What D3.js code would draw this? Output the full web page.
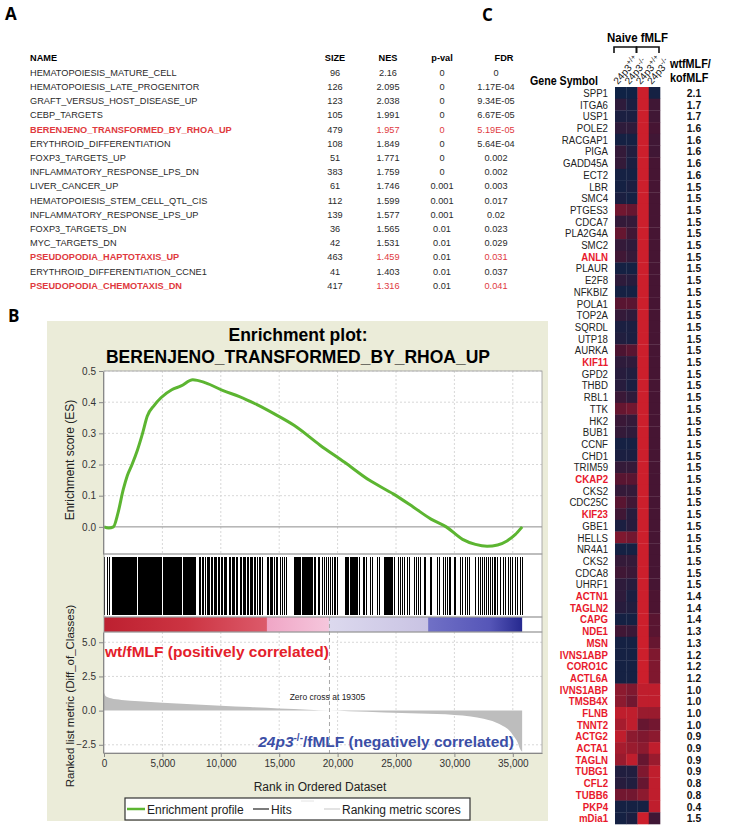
<!DOCTYPE html>
<html>
<head>
<meta charset="utf-8">
<style>
body { margin: 0; background: #fff; }
svg { display: block; font-family: "Liberation Sans", Arial, sans-serif; }
</style>
</head>
<body>
<div id="graph"></div>
<script src="https://d3js.org/d3.v7.min.js"></script>
<script>
// ---------- Panel A: GSEA table ----------
var setNames = ["HEMATOPOIESIS_MATURE_CELL", "HEMATOPOIESIS_LATE_PROGENITOR", "GRAFT_VERSUS_HOST_DISEASE_UP",
  "CEBP_TARGETS", "BERENJENO_TRANSFORMED_BY_RHOA_UP", "ERYTHROID_DIFFERENTIATION", "FOXP3_TARGETS_UP",
  "INFLAMMATORY_RESPONSE_LPS_DN", "LIVER_CANCER_UP", "HEMATOPOIESIS_STEM_CELL_QTL_CIS",
  "INFLAMMATORY_RESPONSE_LPS_UP", "FOXP3_TARGETS_DN", "MYC_TARGETS_DN", "PSEUDOPODIA_HAPTOTAXIS_UP",
  "ERYTHROID_DIFFERENTIATION_CCNE1", "PSEUDOPODIA_CHEMOTAXIS_DN"];
var setSize = ["96", "126", "123", "105", "479", "108", "51", "383", "61", "112", "139", "36", "42", "463", "41", "417"];
var setNES = ["2.16", "2.095", "2.038", "1.991", "1.957", "1.849", "1.771", "1.759", "1.746", "1.599", "1.577", "1.565", "1.531", "1.459", "1.403", "1.316"];
var setPval = ["0", "0", "0", "0", "0", "0", "0", "0", "0.001", "0.001", "0.001", "0.01", "0.01", "0.01", "0.01", "0.01"];
var setFDR = ["0", "1.17E-04", "9.34E-05", "6.67E-05", "5.19E-05", "5.64E-04", "0.002", "0.002", "0.003", "0.017", "0.02", "0.023", "0.029", "0.031", "0.037", "0.041"];
var setRed = [0, 0, 0, 0, 1, 0, 0, 0, 0, 0, 0, 0, 0, 1, 0, 1];
var pvalRed = [0, 0, 0, 0, 1, 0, 0, 0, 0, 0, 0, 0, 0, 0, 0, 0];

// ---------- Panel B: enrichment plot ----------
var esRank = [0, 400, 800, 1200, 1650, 2000, 2400, 2850, 3300, 3700, 4300, 4900, 5800, 6600, 7600, 8700,
  10200, 11600, 13100, 14700, 16300, 18500, 20600, 22700, 24800, 26500, 28000, 29300, 30700, 31800,
  32800, 33700, 34500, 35200, 35800];
var esScore = [0, -0.004, 0.0, 0.045, 0.12, 0.165, 0.2, 0.245, 0.3, 0.355, 0.39, 0.415, 0.44, 0.452, 0.472, 0.462,
  0.437, 0.418, 0.392, 0.36, 0.325, 0.262, 0.207, 0.15, 0.105, 0.063, 0.025, 0.0, -0.04, -0.056,
  -0.062, -0.058, -0.045, -0.025, 0.0];

var hitRanks = [39, 244, 420,
  714, 800, 885, 970, 1055, 1140, 1225, 1310, 1395, 1480, 1565, 1650, 1735, 1820, 1905, 1990, 2075, 2160, 2245, 2330, 2415, 2500, 2585, 2670, 2769,
  2916, 3000, 3085, 3170, 3255, 3340, 3425, 3510, 3595, 3680, 3765, 3850, 3935, 4020, 4105, 4190, 4275, 4354,
  4472, 4555, 4640, 4725, 4810, 4885,
  5056, 5140, 5225, 5310, 5395, 5480, 5565, 5650, 5735, 5820, 5905, 5990, 6075, 6160, 6245, 6330, 6415, 6500, 6584,
  6730, 6815, 6900, 6985, 7070, 7155, 7240, 7325, 7410, 7495, 7580, 7665, 7757,
  8110, 8256, 8380, 8510, 8640, 8786, 8900, 8992,
  9138, 9260, 9380, 9500, 9620, 9750, 9871, 10018, 10130, 10240, 10350, 10458,
  10693, 10810, 10930, 11050, 11170, 11290, 11397,
  11632, 11750, 11870, 11990, 12110, 12230, 12350, 12470, 12590, 12700, 12804,
  12951, 13100, 13250, 13391, 13538, 13919, 14050, 14170, 14271,
  14417, 14550, 14700, 14850, 15085, 15231, 15428, 15600,
  16225, 16300, 16371, 16460, 16550, 16640, 16730, 16820, 16910, 17000, 17090, 17180, 17270, 17360, 17450, 17540, 17630, 17720, 17810, 17940,
  18100, 18300, 18450, 18650, 18800, 19000, 19150, 19350, 19517, 19654, 19800, 19945,
  20657, 20750, 20840, 20930, 21020, 21110, 21200, 21290, 21380, 21470, 21560, 21650, 21797,
  22174, 22285, 22457, 22800, 22945, 23374, 23546,
  23940, 24030, 24120, 24210, 24300, 24390, 24480, 24570, 24660, 24797,
  25140, 25311, 25517, 25714, 25945, 26085, 26510, 26700, 26900, 27085,
  27370, 27510, 27880, 28000, 28515, 28650, 29030, 29230, 29370, 29500, 29655, 29940, 30085,
  30510, 30685, 30940, 31080, 31225, 31800, 31995, 32230, 32400, 32570,
  32740, 32900, 33050, 33200, 33370, 33510, 33660, 33940, 34170, 34370, 34570, 34800, 34970,
  35230, 35370, 35600, 35800];

var metricRank = [0, 150, 600, 1500, 3000, 5000, 7500, 10000, 12500, 15000, 17500, 19305, 21000, 24000, 27000,
  30000, 31400, 32500, 33500, 34200, 34700, 35100, 35400, 35650, 35800];
var metricValue = [1.3, 1.05, 0.9, 0.78, 0.68, 0.58, 0.47, 0.36, 0.26, 0.16, 0.07, 0, -0.05, -0.13, -0.22,
  -0.32, -0.43, -0.6, -0.85, -1.15, -1.45, -1.9, -2.3, -2.85, -3.0];

var barStopRank = [0, 7000, 13900, 14000, 19200, 19300, 27700, 27800, 33000, 35800];
var barStopColor = ["#bd2030", "#cc3442", "#dc5a6a", "#f0a6c6", "#f5c6dc", "#dcd9ee", "#c9c3e3", "#7070c6", "#5656b8", "#26298f"];

var rankTicks = [0, 5000, 10000, 15000, 20000, 25000, 30000, 35000];
var esTicks = [0.0, 0.1, 0.2, 0.3, 0.4, 0.5];
var metricTicks = [-2.5, 0.0, 2.5, 5.0];
var zeroCross = 19305;
var nGenes = 35800;

// ---------- Panel C: heatmap ----------
var genes = ["SPP1", "ITGA6", "USP1", "POLE2", "RACGAP1", "PIGA", "GADD45A", "ECT2", "LBR", "SMC4", "PTGES3",
  "CDCA7", "PLA2G4A", "SMC2", "ANLN", "PLAUR", "E2F8", "NFKBIZ", "POLA1", "TOP2A", "SQRDL", "UTP18", "AURKA",
  "KIF11", "GPD2", "THBD", "RBL1", "TTK", "HK2", "BUB1", "CCNF", "CHD1", "TRIM59", "CKAP2", "CKS2", "CDC25C",
  "KIF23", "GBE1", "HELLS", "NR4A1", "CKS2", "CDCA8", "UHRF1", "ACTN1", "TAGLN2", "CAPG", "NDE1", "MSN",
  "IVNS1ABP", "CORO1C", "ACTL6A", "IVNS1ABP", "TMSB4X", "FLNB", "TNNT2", "ACTG2", "ACTA1", "TAGLN", "TUBG1",
  "CFL2", "TUBB6", "PKP4", "mDia1"];
var geneRed = ["ANLN", "KIF11", "CKAP2", "KIF23"];
var firstRedBlock = 43; // ACTN1 onwards
var ratio = ["2.1", "1.7", "1.7", "1.6", "1.6", "1.6", "1.6", "1.6",
  "1.5", "1.5", "1.5", "1.5", "1.5", "1.5", "1.5", "1.5", "1.5", "1.5", "1.5", "1.5", "1.5", "1.5", "1.5", "1.5",
  "1.5", "1.5", "1.5", "1.5", "1.5", "1.5", "1.5", "1.5", "1.5", "1.5", "1.5", "1.5", "1.5", "1.5", "1.5", "1.5",
  "1.5", "1.5", "1.5", "1.4", "1.4", "1.4", "1.3", "1.3", "1.2", "1.2", "1.2", "1.0", "1.0", "1.0", "1.0",
  "0.9", "0.9", "0.9", "0.9", "0.8", "0.8", "0.4", "1.5"];
var heat = [
  [-1, -1, 1, -0.9], [-0.5, -0.8, 1, -0.2], [-0.8, -0.8, 1, -0.2], [-0.5, -0.5, 1, -0.1], [-0.9, -0.9, 1, -0.2],
  [-0.4, -0.7, 1, -0.2], [-0.4, -0.8, 1, -0.1], [-0.9, -0.9, 1, -0.1], [-0.9, -0.8, 1, -0.1], [-0.8, -0.9, 1, -0.1],
  [0.3, 0.2, 1, -0.1], [-0.4, -0.4, 1, -0.1], [0.2, -0.2, 1, -0.1], [-0.4, -0.5, 1, -0.1], [-0.2, -0.4, 1, -0.1],
  [-0.9, -0.9, 1, -0.1], [-0.5, -0.6, 1, -0.1], [-0.9, -0.9, 1, -0.1], [0.1, 0.1, 1, -0.1], [-0.4, -0.5, 1, -0.1],
  [-0.8, -0.8, 1, -0.1], [-0.7, -0.8, 1, -0.1], [0.0, 0.1, 1, -0.1], [-0.5, -0.5, 1, -0.1], [-0.6, -0.7, 1, -0.1],
  [-0.6, -0.8, 1, -0.1], [-0.3, -0.5, 1, -0.1], [0.2, 0.3, 1, -0.1], [-0.3, -0.4, 1, -0.1], [-0.4, -0.5, 1, -0.1],
  [-0.9, -0.9, 1, -0.1], [-0.8, -0.8, 1, -0.1], [-0.4, -0.4, 1, -0.1], [0.1, 0.1, 1, -0.1], [-0.4, -0.4, 1, -0.1],
  [0.1, -0.2, 1, -0.1], [-0.2, -0.6, 1, -0.1], [-0.8, -0.6, 1, -0.1], [0.4, 0.3, 1, -0.1], [-0.9, -0.9, 1, -0.1],
  [-0.4, -0.4, 1, -0.1], [-0.2, -0.3, 1, -0.1], [-0.5, -0.6, 1, -0.1], [-0.5, -0.8, 1, 0.0], [-0.6, -0.7, 1, 0.0],
  [-0.9, -0.9, 1, 0.1], [-0.2, -0.3, 1, 0.1], [-0.9, -0.9, 1, 0.2], [-0.9, -0.9, 1, 0.4], [-0.9, -0.9, 1, 0.4],
  [-0.9, -0.9, 1, 0.4], [0.5, 0.4, 0.9, 0.9], [0.5, 0.3, 0.9, 0.9], [0.9, 0.9, 0.6, 0.6], [0.7, 0.9, 0.2, 0.3],
  [0.9, 0.5, 0.4, 0.5], [0.7, 0.6, 0.5, 0.9], [0.6, 0.9, 0.2, 0.6], [-0.7, -0.7, 0.4, 0.9], [-0.6, -0.7, 0.2, 0.9],
  [0.3, 0.3, 0.5, 0.9], [-0.9, -0.9, -0.9, 0.9], [-0.9, -0.8, 1, -0.2]];
var colSup = ["+/+", "-/-", "+/+", "-/-"];

var W = 729, H = 826;
var red = "#e0393e";

var svg = d3.select("#graph").append("svg")
  .attr("width", W)
  .attr("height", H);

svg.append("rect").attr("width", W).attr("height", H).attr("fill", "#fff");

// panel letters
[["A", 5, 20], ["B", 8, 322], ["C", 482, 21]].forEach(function(p) {
  svg.append("text").attr("x", p[1]).attr("y", p[2])
    .style("font-family", '"Open Sans", sans-serif')
    .style("font-weight", "bold").style("font-size", "17px").text(p[0]);
});

// ================= Panel A =================
var tbl = svg.append("g").style("font-size", "9.2px");
var rowY = d3.scaleLinear().domain([0, 1]).range([75.7, 89.9]);
var colX = [335, 388, 442, 496];

tbl.append("text").attr("x", 30).attr("y", 61).style("font-weight", "bold").text("NAME");
[["SIZE", 335], ["NES", 388], ["p-val", 442], ["FDR", 504]].forEach(function(h) {
  tbl.append("text").attr("x", h[1]).attr("y", 61).attr("text-anchor", "middle")
    .style("font-weight", "bold").text(h[0]);
});

setNames.forEach(function(n, i) {
  var y = rowY(i);
  tbl.append("text").attr("x", 30).attr("y", y)
    .attr("fill", setRed[i] ? red : "#2a2a2a")
    .style("font-weight", setRed[i] ? "bold" : "normal").text(n);
  var cells = [setSize[i], setNES[i], setPval[i], setFDR[i]];
  var reds = [0, setRed[i], pvalRed[i], setRed[i]];
  cells.forEach(function(c, j) {
    tbl.append("text").attr("x", colX[j]).attr("y", y).attr("text-anchor", "middle")
      .attr("fill", reds[j] ? red : "#2a2a2a").text(c);
  });
});

// ================= Panel B =================
var gB = svg.append("g");
gB.append("rect").attr("x", 47).attr("y", 321).attr("width", 501).attr("height", 500).attr("fill", "#ebecd9");

gB.append("text").attr("x", 298).attr("y", 341).attr("text-anchor", "middle")
  .style("font-weight", "bold").style("font-size", "17.5px").text("Enrichment plot:");
gB.append("text").attr("x", 298).attr("y", 363).attr("text-anchor", "middle")
  .style("font-weight", "bold").style("font-size", "17.5px").text("BERENJENO_TRANSFORMED_BY_RHOA_UP");

var x = d3.scaleLinear().domain([0, 37500]).range([104, 542]);
var yES = d3.scaleLinear().domain([-0.087, 0.5]).range([554, 371]);
var yM = d3.scaleLinear().domain([-3.1, 5.75]).range([753, 632]);

// panel backgrounds
[[371, 554], [554, 617], [617, 632], [632, 753]].forEach(function(b) {
  gB.append("rect").attr("x", x.range()[0]).attr("y", b[0])
    .attr("width", x.range()[1] - x.range()[0]).attr("height", b[1] - b[0])
    .attr("fill", "#fff");
});

// gridlines ES
gB.append("g").selectAll("line").data(rankTicks.slice(1)).enter().append("line")
  .attr("x1", function(d) { return x(d); }).attr("x2", function(d) { return x(d); })
  .attr("y1", 371).attr("y2", 554)
  .attr("stroke", "#d8d8d8").attr("stroke-dasharray", "2,2");
gB.append("g").selectAll("line").data(esTicks.slice(1)).enter().append("line")
  .attr("x1", x.range()[0]).attr("x2", x.range()[1])
  .attr("y1", function(d) { return yES(d); }).attr("y2", function(d) { return yES(d); })
  .attr("stroke", "#d8d8d8").attr("stroke-dasharray", "2,2");
gB.append("line").attr("x1", x.range()[0]).attr("x2", x.range()[1])
  .attr("y1", yES(0)).attr("y2", yES(0)).attr("stroke", "#8c8c8c").attr("stroke-width", 1);

// gridlines metric
gB.append("g").selectAll("line").data(rankTicks.slice(1)).enter().append("line")
  .attr("x1", function(d) { return x(d); }).attr("x2", function(d) { return x(d); })
  .attr("y1", 632).attr("y2", 753)
  .attr("stroke", "#d8d8d8").attr("stroke-dasharray", "2,2");
gB.append("g").selectAll("line").data([-2.5, 2.5, 5.0]).enter().append("line")
  .attr("x1", x.range()[0]).attr("x2", x.range()[1])
  .attr("y1", function(d) { return yM(d); }).attr("y2", function(d) { return yM(d); })
  .attr("stroke", "#d8d8d8").attr("stroke-dasharray", "2,2");

// hits
gB.append("g").selectAll("line").data(hitRanks).enter().append("line")
  .attr("x1", function(d) { return Math.round(x(d)) + 0.5; }).attr("x2", function(d) { return Math.round(x(d)) + 0.5; })
  .attr("y1", 557).attr("y2", 615)
  .attr("stroke", "#000").attr("stroke-width", 1)
  .attr("shape-rendering", "crispEdges");

// colour bar
var grad = svg.append("defs").append("linearGradient").attr("id", "rankbar")
  .attr("x1", "0%").attr("x2", "100%");
barStopRank.forEach(function(r, i) {
  grad.append("stop").attr("offset", (r / nGenes * 100) + "%").attr("stop-color", barStopColor[i]);
});
gB.append("rect").attr("x", x(0)).attr("y", 617).attr("width", x(nGenes) - x(0)).attr("height", 15)
  .attr("fill", "url(#rankbar)");

// ranked list metric
var area = d3.area()
  .x(function(d, i) { return x(metricRank[i]); })
  .y0(yM(0))
  .y1(function(d) { return yM(d); })
  .curve(d3.curveMonotoneX);
gB.append("path").datum(metricValue).attr("d", area).attr("fill", "#bdbdbd");

// zero cross
gB.append("line").attr("x1", x(zeroCross)).attr("x2", x(zeroCross))
  .attr("y1", 617).attr("y2", 753)
  .attr("stroke", "#a8a8a8").attr("stroke-dasharray", "4,3");
gB.append("text").attr("x", x(zeroCross) - 2).attr("y", 700).attr("text-anchor", "middle")
  .style("font-size", "8.5px").attr("fill", "#222").text("Zero cross at " + zeroCross);

// ES curve
var line = d3.line()
  .x(function(d, i) { return x(esRank[i]); })
  .y(function(d) { return yES(d); })
  .curve(d3.curveMonotoneX);
gB.append("path").datum(esScore).attr("d", line)
  .attr("fill", "none").attr("stroke", "#5cb531").attr("stroke-width", 3);

// panel borders
[[371, 554], [554, 617], [617, 632], [632, 753]].forEach(function(b) {
  gB.append("rect").attr("x", x.range()[0]).attr("y", b[0])
    .attr("width", x.range()[1] - x.range()[0]).attr("height", b[1] - b[0])
    .attr("fill", "none").attr("stroke", "#9a9a9a").attr("stroke-width", 0.8);
});

// axes
function styleAxis(g) {
  g.selectAll("path").attr("stroke", "#888");
  g.selectAll("line").attr("stroke", "#888");
  g.selectAll("text").attr("fill", "#333").style("font-size", "10px")
    .style("font-family", '"Liberation Sans", Arial, sans-serif');
}
gB.append("g").attr("transform", "translate(103,0)")
  .call(d3.axisLeft(yES).tickValues(esTicks).tickFormat(d3.format(".1f")).tickSize(4).tickSizeOuter(0))
  .call(styleAxis);
gB.append("g").attr("transform", "translate(103,0)")
  .call(d3.axisLeft(yM).tickValues(metricTicks).tickFormat(d3.format(".1f")).tickSize(4).tickSizeOuter(0))
  .call(styleAxis);
gB.append("g").attr("transform", "translate(0,753)")
  .call(d3.axisBottom(x).tickValues(rankTicks).tickFormat(d3.format(",")).tickSize(4).tickSizeOuter(0))
  .call(styleAxis);

// axis labels
gB.append("text").attr("transform", "translate(74,460) rotate(-90)").attr("text-anchor", "middle")
  .style("font-size", "12px").attr("fill", "#222").text("Enrichment score (ES)");
gB.append("text").attr("transform", "translate(74,696) rotate(-90)").attr("text-anchor", "middle")
  .style("font-size", "11.5px").attr("fill", "#222").text("Ranked list metric (Diff_of_Classes)");
gB.append("text").attr("x", 320).attr("y", 791).attr("text-anchor", "middle")
  .style("font-size", "12px").attr("fill", "#222").text("Rank in Ordered Dataset");

// class annotations
gB.append("text").attr("x", 105).attr("y", 657)
  .style("font-weight", "bold").style("font-size", "15.5px").attr("fill", "#e4202a")
  .text("wt/fMLF (positively correlated)");
var neg = gB.append("text").attr("x", 514).attr("y", 747).attr("text-anchor", "end")
  .style("font-weight", "bold").style("font-size", "15.5px").attr("fill", "#3b4ea6");
neg.append("tspan").style("font-style", "italic").text("24p3");
neg.append("tspan").attr("dy", -6).style("font-size", "10px").text("-/-");
neg.append("tspan").attr("dy", 6).text("/fMLF (negatively correlated)");

// legend
var lg = gB.append("g");
lg.append("rect").attr("x", 125).attr("y", 798).attr("width", 345).attr("height", 22)
  .attr("fill", "#fff").attr("stroke", "#333").attr("stroke-width", 1.2);
lg.append("line").attr("x1", 127).attr("x2", 145).attr("y1", 809).attr("y2", 809).attr("stroke", "#5cb531").attr("stroke-width", 2.5);
lg.append("text").attr("x", 147).attr("y", 813.5).style("font-size", "12px").attr("fill", "#222").text("Enrichment profile");
lg.append("line").attr("x1", 253).attr("x2", 269).attr("y1", 809).attr("y2", 809).attr("stroke", "#222").attr("stroke-width", 1.2);
lg.append("text").attr("x", 271).attr("y", 813.5).style("font-size", "12px").attr("fill", "#222").text("Hits");
lg.append("line").attr("x1", 301).attr("x2", 314).attr("y1", 801).attr("y2", 801).attr("stroke", "#e4e4e4").attr("stroke-width", 1);
lg.append("line").attr("x1", 324).attr("x2", 340).attr("y1", 809).attr("y2", 809).attr("stroke", "#d0d0d0").attr("stroke-width", 1.2);
lg.append("text").attr("x", 342).attr("y", 813.5).style("font-size", "12px").attr("fill", "#222").text("Ranking metric scores");

// ================= Panel C =================
var gC = svg.append("g");
var yRow = d3.scaleBand().domain(d3.range(genes.length)).range([87, 824]);
var xCol = d3.scaleBand().domain([0, 1, 2, 3]).range([615, 660]);
var heatColor = d3.scaleLinear().domain([-1, 0, 1]).range(["#0f2245", "#4c1431", "#cc1f2c"]);

gC.selectAll("g.row").data(heat).enter().append("g")
  .each(function(row, i) {
    d3.select(this).selectAll("rect").data(row).enter().append("rect")
      .attr("x", function(d, j) { return xCol(j); })
      .attr("y", yRow(i))
      .attr("width", xCol.bandwidth() + 0.3)
      .attr("height", yRow.bandwidth() + 0.3)
      .attr("fill", function(d) { return heatColor(d); });
  });

// gene names (condensed, right-aligned at x=608)
gC.append("g").attr("transform", "translate(608,0) scale(0.84,1)")
  .selectAll("text").data(genes).enter().append("text")
  .attr("x", 0)
  .attr("y", function(d, i) { return yRow(i) + yRow.bandwidth() / 2; })
  .attr("dy", "0.36em")
  .attr("text-anchor", "end")
  .style("font-size", "11.5px")
  .style("font-weight", function(d, i) { return (i >= firstRedBlock || geneRed.indexOf(d) >= 0) ? "bold" : "normal"; })
  .attr("fill", function(d, i) { return (i >= firstRedBlock || geneRed.indexOf(d) >= 0) ? "#e8192c" : "#222"; })
  .text(function(d) { return d; });

gC.append("g").attr("transform", "translate(694,0) scale(0.9,1)")
  .selectAll("text").data(ratio).enter().append("text")
  .attr("x", 0)
  .attr("y", function(d, i) { return yRow(i) + yRow.bandwidth() / 2; })
  .attr("dy", "0.36em")
  .attr("text-anchor", "middle")
  .style("font-weight", "bold")
  .style("font-size", "11.5px")
  .attr("fill", "#111")
  .text(function(d) { return d; });

// headers
gC.append("text").attr("transform", "translate(598,85) scale(0.82,1)").attr("text-anchor", "end")
  .style("font-weight", "bold").style("font-size", "13px").text("Gene Symbol");
gC.append("text").attr("transform", "translate(670,68) scale(0.8,1)")
  .style("font-weight", "bold").style("font-size", "13.5px").text("wtfMLF/");
gC.append("text").attr("transform", "translate(670,82) scale(0.8,1)")
  .style("font-weight", "bold").style("font-size", "13.5px").text("kofMLF");
gC.append("text").attr("transform", "translate(" + ((xCol(0) + xCol(3) + xCol.bandwidth()) / 2) + ",42) scale(0.88,1)")
  .attr("text-anchor", "middle")
  .style("font-weight", "bold").style("font-size", "13px").text("Naive fMLF");

// brackets
[[0, 1], [2, 3]].forEach(function(p) {
  var x0 = xCol(p[0]) - 1, x1 = xCol(p[1]) + xCol.bandwidth() - 1;
  gC.append("path").attr("d", "M" + x0 + ",53V47H" + x1 + "V53")
    .attr("fill", "none").attr("stroke", "#111").attr("stroke-width", 1.6);
});

// column labels
colSup.forEach(function(s, j) {
  var t = gC.append("text")
    .attr("transform", "translate(" + (xCol(j) + 3) + ",85) rotate(-50)")
    .style("font-size", "10px").attr("fill", "#111");
  t.append("tspan").text("24p3");
  t.append("tspan").attr("dy", -4).style("font-size", "7.5px").text(s);
});
</script>
</body>
</html>
